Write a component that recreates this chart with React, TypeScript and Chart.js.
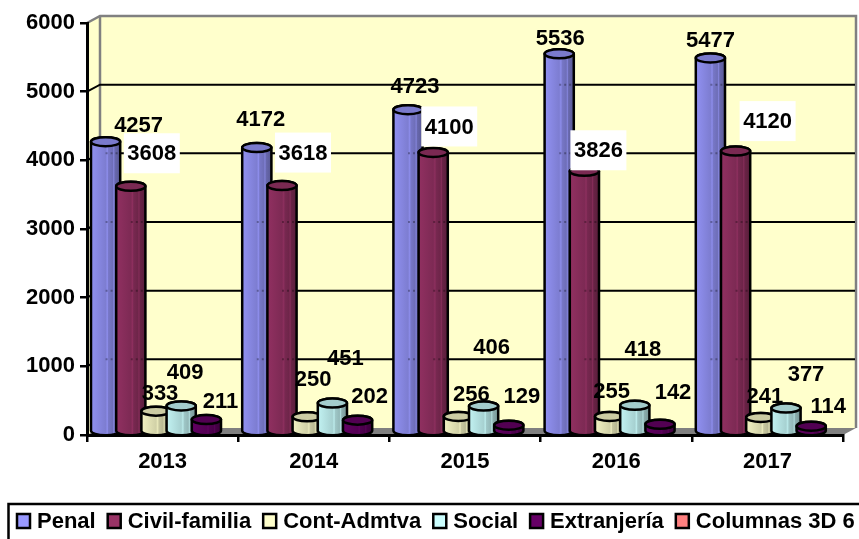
import React, { useEffect, useRef } from "react";
import { Chart, registerables } from "chart.js";

Chart.register(...registerables);

const categories = ["2013", "2014", "2015", "2016", "2017"];
const penal = [4257, 4172, 4723, 5536, 5477];
const civilFamilia = [3608, 3618, 4100, 3826, 4120];
const contAdmtva = [333, 250, 256, 255, 241];
const social = [409, 451, 406, 418, 377];
const extranjeria = [211, 202, 129, 142, 114];
const columnas6: (number | null)[] = [null, null, null, null, null];

const seriesNames = ["Penal", "Civil-familia", "Cont-Admtva", "Social", "Extranjería", "Columnas 3D 6"];
const seriesValues = [penal, civilFamilia, contAdmtva, social, extranjeria, columnas6];
const seriesColors = ["#9999FF", "#993366", "#FFFFCC", "#CCFFFF", "#660066", "#FF8080"];

// label displacement from each bar top, [dx, dy] per series then year
const labelShift: number[][][] = [
  [[39, -18], [10, -30], [13, -25], [7, -17], [6, -19]],
  [[27, -34], [27, -34], [22, -27], [20, -22], [38, -31]],
  [[10, -19], [12, -39], [19, -23], [8, -27], [10, -23]],
  [[10, -35], [19, -46], [14, -60], [14, -57], [26, -35]],
  [[20, -20], [18, -25], [19, -30], [19, -33], [23, -21]],
];
const boxedSeries = 1;

const FAMILY = "'Liberation Sans', Arial, sans-serif";
const FONT = `bold 22px ${FAMILY}`;
const DEPTH_X = 13;
const DEPTH_Y = 7;
const BAR_SHIFT = 6;

function shade(hex: string, f: number) {
  const n = parseInt(hex.slice(1), 16);
  const c = [(n >> 16) & 255, (n >> 8) & 255, n & 255].map((v) => Math.round(v * f));
  return `rgb(${c[0]},${c[1]},${c[2]})`;
}

const scene = {
  id: "scene",
  beforeDatasetsDraw(chart: any) {
    const { ctx, chartArea: a, scales } = chart;
    const y = scales.y;
    ctx.save();
    const L = a.left, R = a.right, T = a.top, B = a.bottom;
    // back wall and side wall
    ctx.fillStyle = "#FFFFCC";
    ctx.fillRect(L + DEPTH_X, T - DEPTH_Y, R - L, B - T);
    ctx.beginPath();
    ctx.moveTo(L, T); ctx.lineTo(L + DEPTH_X, T - DEPTH_Y); ctx.lineTo(L + DEPTH_X, B - DEPTH_Y); ctx.lineTo(L, B);
    ctx.closePath();
    ctx.fill();
    // floor
    ctx.fillStyle = "#808080";
    ctx.beginPath();
    ctx.moveTo(L, B); ctx.lineTo(L + DEPTH_X, B - DEPTH_Y); ctx.lineTo(R + DEPTH_X, B - DEPTH_Y); ctx.lineTo(R, B);
    ctx.closePath();
    ctx.fill();
    // wall outline
    ctx.strokeStyle = "#808080";
    ctx.lineWidth = 2.5;
    ctx.beginPath();
    ctx.moveTo(L, T); ctx.lineTo(L + DEPTH_X, T - DEPTH_Y); ctx.lineTo(R + DEPTH_X, T - DEPTH_Y); ctx.lineTo(R + DEPTH_X, B - DEPTH_Y);
    ctx.moveTo(L + DEPTH_X, T - DEPTH_Y); ctx.lineTo(L + DEPTH_X, B - DEPTH_Y);
    ctx.stroke();
    // gridlines on the walls
    ctx.strokeStyle = "#000";
    ctx.lineWidth = 2;
    for (const t of y.ticks) {
      if (t.value === 0 || t.value === 6000) continue;
      const py = y.getPixelForValue(t.value);
      ctx.beginPath();
      ctx.moveTo(L, py); ctx.lineTo(L + DEPTH_X, py - DEPTH_Y); ctx.lineTo(R + DEPTH_X - 1, py - DEPTH_Y);
      ctx.stroke();
    }
    ctx.restore();
  },
  beforeDatasetDraw() {
    return false;
  },
  afterDatasetsDraw(chart: any) {
    const { ctx, scales } = chart;
    ctx.save();
    // cylinders, later series in front
    chart.data.datasets.forEach((ds: any, j: number) => {
      const meta = chart.getDatasetMeta(j);
      meta.data.forEach((el: any, i: number) => {
        const v = ds.data[i];
        if (v == null) return;
        const w = el.width + 4;
        const cx = el.x + BAR_SHIFT;
        const top = el.y - 1;
        const bot = el.base - 3;
        const rx = w / 2;
        const ry = 4.5;
        const base = ds.backgroundColor as string;
        const g = ctx.createLinearGradient(cx - rx, 0, cx + rx, 0);
        g.addColorStop(0, shade(base, 0.95));
        g.addColorStop(0.5, shade(base, 0.82));
        g.addColorStop(0.56, shade(base, 0.92));
        g.addColorStop(0.6, shade(base, 0.78));
        g.addColorStop(0.74, shade(base, 0.72));
        g.addColorStop(0.78, shade(base, 0.86));
        g.addColorStop(0.82, shade(base, 0.68));
        g.addColorStop(1, shade(base, 0.58));
        ctx.beginPath();
        ctx.moveTo(cx - rx, top);
        ctx.lineTo(cx - rx, bot);
        ctx.ellipse(cx, bot, rx, ry, 0, Math.PI, 0, true);
        ctx.lineTo(cx + rx, top);
        ctx.ellipse(cx, top, rx, ry, 0, 0, Math.PI, true);
        ctx.closePath();
        ctx.fillStyle = g;
        ctx.fill();
        ctx.strokeStyle = "#000";
        ctx.lineWidth = 2.5;
        ctx.stroke();
        // wall gridlines showing faintly through the right of the column
        ctx.save();
        ctx.strokeStyle = "rgba(0,0,0,0.3)";
        ctx.lineWidth = 2;
        ctx.setLineDash([2, 3]);
        for (const t of scales.y.ticks) {
          const gy = scales.y.getPixelForValue(t.value) - DEPTH_Y;
          if (t.value === 0 || gy < top + 6 || gy > bot) continue;
          ctx.beginPath();
          ctx.moveTo(cx, gy);
          ctx.lineTo(cx + rx - 2, gy);
          ctx.stroke();
        }
        ctx.restore();
        ctx.beginPath();
        ctx.ellipse(cx, top, rx, ry, 0, 0, Math.PI * 2);
        ctx.fillStyle = shade(base, 0.8);
        ctx.fill();
        ctx.stroke();
      });
    });
    // value labels
    ctx.font = FONT;
    ctx.textAlign = "center";
    ctx.textBaseline = "middle";
    chart.data.datasets.forEach((ds: any, j: number) => {
      const meta = chart.getDatasetMeta(j);
      meta.data.forEach((el: any, i: number) => {
        const v = ds.data[i];
        if (v == null) return;
        const [dx, dy] = labelShift[j][i];
        const x = el.x + dx;
        const yy = el.y + dy;
        if (j === boxedSeries) {
          ctx.fillStyle = "#fff";
          ctx.fillRect(x - 28, yy - 20, 56, 40);
        }
        ctx.fillStyle = "#000";
        ctx.fillText(String(v), x, yy + 1);
      });
    });
    ctx.restore();
  },
  afterDraw(chart: any) {
    const { ctx } = chart;
    ctx.save();
    // legend frame (runs off the picture on the right and bottom) and entries
    ctx.strokeStyle = "#000";
    ctx.lineWidth = 2.5;
    ctx.strokeRect(8.5, 504, 870, 60);
    ctx.font = FONT;
    ctx.textBaseline = "middle";
    ctx.textAlign = "left";
    const gapSwatch = 7;
    const gapItem = 12;
    let x = 17;
    chart.data.datasets.forEach((ds: any) => {
      ctx.fillStyle = ds.backgroundColor;
      ctx.fillRect(x, 514, 13, 14);
      ctx.lineWidth = 2.5;
      ctx.strokeRect(x, 514, 13, 14);
      const tx = x + 13 + gapSwatch;
      ctx.fillStyle = "#000";
      ctx.fillText(ds.label, tx, 522);
      x = tx + ctx.measureText(ds.label).width + gapItem;
    });
    ctx.restore();
  },
};

const tickFont = { family: FAMILY, size: 22, weight: "bold" };

export default function App() {
  const ref = useRef<HTMLCanvasElement>(null);
  useEffect(() => {
    const chart = new Chart(ref.current!, {
      type: "bar",
      data: {
        labels: categories,
        datasets: seriesNames.map((label, j) => ({
          label,
          data: seriesValues[j],
          backgroundColor: seriesColors[j],
          borderColor: "#000",
          categoryPercentage: 1,
          barPercentage: 1,
        })),
      },
      options: {
        responsive: false,
        animation: false,
        layout: { padding: { top: 23, right: 16, bottom: 44, left: 0 } },
        plugins: { legend: { display: false }, tooltip: { enabled: false }, title: { display: false } },
        scales: {
          x: {
            afterFit: (s: any) => { s.height = 60; },
            border: { color: "#000", width: 3, z: 2 },
            grid: { display: true, drawOnChartArea: false, drawTicks: true, tickLength: 7, color: "#000", lineWidth: 2.5, offset: true, z: 2 },
            ticks: { color: "#000", font: tickFont, padding: 7, maxRotation: 0 },
          },
          y: {
            min: 0,
            max: 6000,
            afterFit: (s: any) => { s.width = 87; },
            border: { color: "#000", width: 3, z: 2 },
            grid: { display: true, drawOnChartArea: false, drawTicks: true, tickLength: 7, color: "#000", lineWidth: 2.5, z: 2 },
            ticks: { stepSize: 1000, color: "#000", font: tickFont, padding: 5, callback: (v: any) => String(v) },
          },
        },
      },
      plugins: [scene],
    } as any);
    return () => chart.destroy();
  }, []);
  return (
    <div style={{ position: "absolute", left: 0, top: 0, width: 859, height: 539, background: "#fff" }}>
      <canvas ref={ref} width={859} height={539} style={{ display: "block" }} />
    </div>
  );
}
